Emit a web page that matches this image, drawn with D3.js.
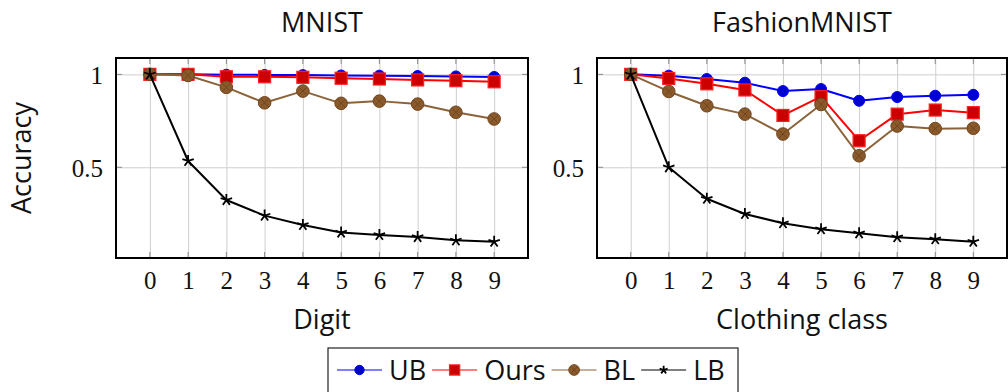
<!DOCTYPE html>
<html>
<head>
<meta charset="utf-8">
<style>
    body { margin: 0; background: #fff; }
    svg { display: block; }
    .sans { font-family: "Open Sans", sans-serif; font-size: 27px; fill: #111; }
    .tick text { font-family: "Liberation Serif", serif; font-size: 25px; fill: #111; }
</style>
</head>
<body>
<svg width="1008" height="392"></svg>
<script src="https://cdnjs.cloudflare.com/ajax/libs/d3/7.8.5/d3.min.js"></script>
<script>
    // classes 0..9
    var classes = [0, 1, 2, 3, 4, 5, 6, 7, 8, 9];
    var yTicks = [0.5, 1];

    // MNIST
    var mnistUB = [1, 1, 0.998, 0.997, 0.996, 0.994, 0.993, 0.991, 0.989, 0.986];
    var mnistOurs = [1, 1, 0.987, 0.987, 0.984, 0.979, 0.975, 0.970, 0.966, 0.960];
    var mnistBL = [1, 0.994, 0.930, 0.847, 0.910, 0.844, 0.856, 0.840, 0.796, 0.760];
    var mnistLB = [1, 0.534, 0.324, 0.240, 0.190, 0.149, 0.136, 0.125, 0.107, 0.100];

    // FashionMNIST
    var fashionUB = [1, 0.993, 0.975, 0.955, 0.910, 0.921, 0.858, 0.878, 0.885, 0.890];
    var fashionOurs = [1, 0.978, 0.949, 0.916, 0.779, 0.880, 0.643, 0.786, 0.808, 0.794];
    var fashionBL = [1, 0.908, 0.831, 0.786, 0.679, 0.838, 0.562, 0.722, 0.708, 0.710];
    var fashionLB = [1, 0.500, 0.331, 0.249, 0.199, 0.167, 0.145, 0.124, 0.113, 0.100];

    var seriesNames = ["UB", "Ours", "BL", "LB"];
    var styles = {
        UB: { line: "#0000ff", mark: "circle", fill: "#0000d0", stroke: "#0000ff", r: 5.5 },
        Ours: { line: "#ff0000", mark: "square", fill: "#cc0000", stroke: "#ff2020", r: 6 },
        BL: { line: "#8c6239", mark: "otimes", fill: "#8b5a2b", stroke: "#6e4520", r: 6.3 },
        LB: { line: "#000000", mark: "star", fill: "none", stroke: "#000", r: 6 }
    };

    var svg = d3.select("svg");

    function drawMark(g, type, cx, cy, st, scale) {
        var r = st.r * (scale || 1);
        if (type === "circle") {
            g.append("circle").attr("cx", cx).attr("cy", cy).attr("r", r)
                .attr("fill", st.fill).attr("stroke", st.stroke).attr("stroke-width", 1);
        } else if (type === "square") {
            g.append("rect").attr("x", cx - r).attr("y", cy - r)
                .attr("width", 2 * r).attr("height", 2 * r)
                .attr("fill", st.fill).attr("stroke", st.stroke).attr("stroke-width", 1.2);
        } else if (type === "otimes") {
            g.append("circle").attr("cx", cx).attr("cy", cy).attr("r", r)
                .attr("fill", st.fill).attr("stroke", st.stroke).attr("stroke-width", 1);
            var k = r * 0.6;
            g.append("path")
                .attr("d", "M" + (cx - k) + "," + (cy - k) + "L" + (cx + k) + "," + (cy + k) +
                    "M" + (cx - k) + "," + (cy + k) + "L" + (cx + k) + "," + (cy - k))
                .attr("stroke", st.stroke).attr("stroke-width", 1);
        } else if (type === "star") {
            var d = "";
            for (var i = 0; i < 5; i++) {
                var a = -Math.PI / 2 + i * 2 * Math.PI / 5;
                d += "M" + cx + "," + cy + "L" + (cx + r * Math.cos(a)) + "," + (cy + r * Math.sin(a));
            }
            g.append("path").attr("d", d).attr("stroke", "#000")
                .attr("stroke-width", 1.8).attr("fill", "none");
        }
    }

    function panel(left, top, width, height, title, xlabel, data) {
        var g = svg.append("g").attr("transform", "translate(" + left + "," + top + ")");
        var x = d3.scaleLinear().domain([-0.885, 9.885]).range([0, width]);
        var y = d3.scaleLinear().domain([0.012, 1.088]).range([height, 0]);

        // grid
        g.append("g").attr("transform", "translate(0," + height + ")")
            .call(d3.axisBottom(x).tickValues(classes).tickSize(-height).tickFormat(""))
            .call(function (s) {
                s.select(".domain").remove();
                s.selectAll("line").attr("stroke", "#cfcfcf").attr("stroke-width", 1);
            });
        g.append("g")
            .call(d3.axisLeft(y).tickValues(yTicks).tickSize(-width).tickFormat(""))
            .call(function (s) {
                s.select(".domain").remove();
                s.selectAll("line").attr("stroke", "#cfcfcf").attr("stroke-width", 1);
            });

        // inner tick marks on all four sides
        var tk = g.append("g").attr("stroke", "#8a8a8a").attr("stroke-width", 1);
        classes.forEach(function (c) {
            tk.append("line").attr("x1", x(c)).attr("x2", x(c)).attr("y1", height).attr("y2", height - 6);
            tk.append("line").attr("x1", x(c)).attr("x2", x(c)).attr("y1", 0).attr("y2", 6);
        });
        yTicks.forEach(function (v) {
            tk.append("line").attr("x1", 0).attr("x2", 6).attr("y1", y(v)).attr("y2", y(v));
            tk.append("line").attr("x1", width).attr("x2", width - 6).attr("y1", y(v)).attr("y2", y(v));
        });

        // tick labels
        g.append("g").attr("transform", "translate(0," + height + ")")
            .call(d3.axisBottom(x).tickValues(classes).tickSize(0).tickPadding(13).tickFormat(d3.format("d")))
            .call(function (s) { s.select(".domain").remove(); });
        g.append("g")
            .call(d3.axisLeft(y).tickValues(yTicks).tickSize(0).tickPadding(13).tickFormat(function (d) { return d === 1 ? "1" : "0.5"; }))
            .call(function (s) {
                s.select(".domain").remove();
                s.selectAll("text").attr("dy", "0.36em");
            });

        // series
        var line = d3.line().x(function (d, i) { return x(classes[i]); }).y(function (d) { return y(d); });
        seriesNames.forEach(function (name) {
            var st = styles[name];
            g.append("path").datum(data[name]).attr("d", line)
                .attr("fill", "none").attr("stroke", st.line).attr("stroke-width", 2)
                .attr("stroke-linejoin", "round");
            var mg = g.append("g");
            data[name].forEach(function (v, i) {
                drawMark(mg, st.mark, x(classes[i]), y(v), st);
            });
        });

        // frame
        g.append("rect").attr("width", width).attr("height", height)
            .attr("fill", "none").attr("stroke", "#000").attr("stroke-width", 2);

        svg.append("text").attr("class", "sans").attr("text-anchor", "middle")
            .attr("x", left + width / 2).attr("y", 32).text(title);
        svg.append("text").attr("class", "sans").attr("text-anchor", "middle")
            .attr("x", left + width / 2).attr("y", 329).text(xlabel);
    }

    panel(116, 58, 412, 200, "MNIST", "Digit",
        { UB: mnistUB, Ours: mnistOurs, BL: mnistBL, LB: mnistLB });
    panel(597, 58, 410, 200, "FashionMNIST", "Clothing class",
        { UB: fashionUB, Ours: fashionOurs, BL: fashionBL, LB: fashionLB });

    svg.append("text").attr("class", "sans").attr("text-anchor", "middle")
        .attr("transform", "translate(31,158) rotate(-90)").text("Accuracy");

    // legend
    var lg = svg.append("g");
    lg.append("rect").attr("x", 328).attr("y", 348).attr("width", 410).attr("height", 60)
        .attr("fill", "#fff").attr("stroke", "#222").attr("stroke-width", 1.2);
    var lx = 337, ly = 370;
    seriesNames.forEach(function (name) {
        var st = styles[name];
        lg.append("line").attr("x1", lx).attr("x2", lx + 45).attr("y1", ly).attr("y2", ly)
            .attr("stroke", st.line).attr("stroke-width", 1.2);
        drawMark(lg, st.mark, lx + 22.5, ly, st, name === "LB" ? 0.7 : 0.85);
        var t = lg.append("text").attr("class", "sans").attr("x", lx + 52).attr("y", 380).text(name);
        lx += 52 + t.node().getComputedTextLength() + 6;
    });
</script>
</body>
</html>
